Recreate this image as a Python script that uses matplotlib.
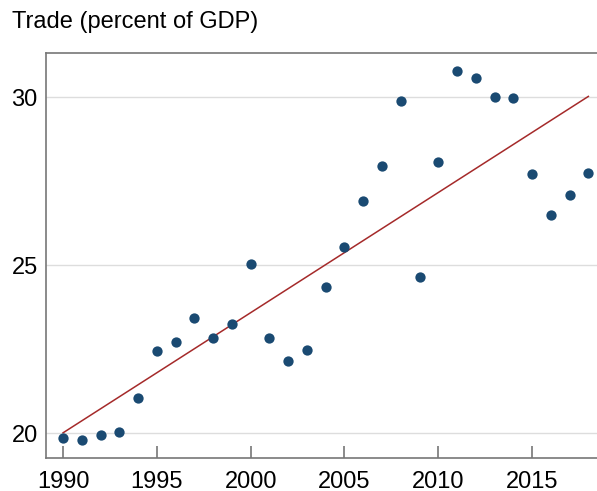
import matplotlib
matplotlib.use("Agg")
import matplotlib.pyplot as plt
import numpy as np

years = np.arange(1990, 2019)
trade = [19.85, 19.79, 19.94, 20.03, 21.04, 22.44, 22.71, 23.42, 22.83, 23.24,
         25.03, 22.83, 22.14, 22.47, 24.35, 25.54, 26.90, 27.95, 29.88, 24.64,
         28.07, 30.77, 30.57, 30.00, 29.97, 27.70, 26.49, 27.08, 27.74]
xticks = [1990, 1995, 2000, 2005, 2010, 2015]
yticks = [20, 25, 30]

plt.rcParams['font.family'] = ['Liberation Sans', 'DejaVu Sans']

fig = plt.figure(figsize=(5.97, 4.91), dpi=100)
ax = fig.add_axes([46 / 597, 33 / 491, 1 - 46 / 597, 405 / 491])

# linear trend
slope, icpt = np.polyfit(years, trade, 1)
ax.plot(years, slope * years + icpt, color='#a52a2a', lw=1.1, zorder=2)
ax.scatter(years, trade, s=55, color='#1a4a72', zorder=3, linewidths=0)

ax.set_xlim(1989.09, 2018.46)
ax.set_ylim(19.26, 31.31)
ax.set_xticks(xticks)
ax.set_yticks(yticks)
ax.tick_params(axis='x', direction='in', length=9, width=1.2, color='#777777',
               labelsize=17, pad=9)
ax.tick_params(axis='y', length=0, labelsize=17, pad=6)
ax.grid(axis='y', color='#dddddd', lw=1)
ax.set_axisbelow(True)
for side in ['left', 'bottom', 'top']:
    ax.spines[side].set_color('#777777')
    ax.spines[side].set_linewidth(1.2)
ax.spines['right'].set_visible(False)

fig.text(12 / 597, 1 - 22 / 491, 'Trade (percent of GDP)', fontsize=17,
         va='center', ha='left')

fig.savefig('out.png', dpi=100)
